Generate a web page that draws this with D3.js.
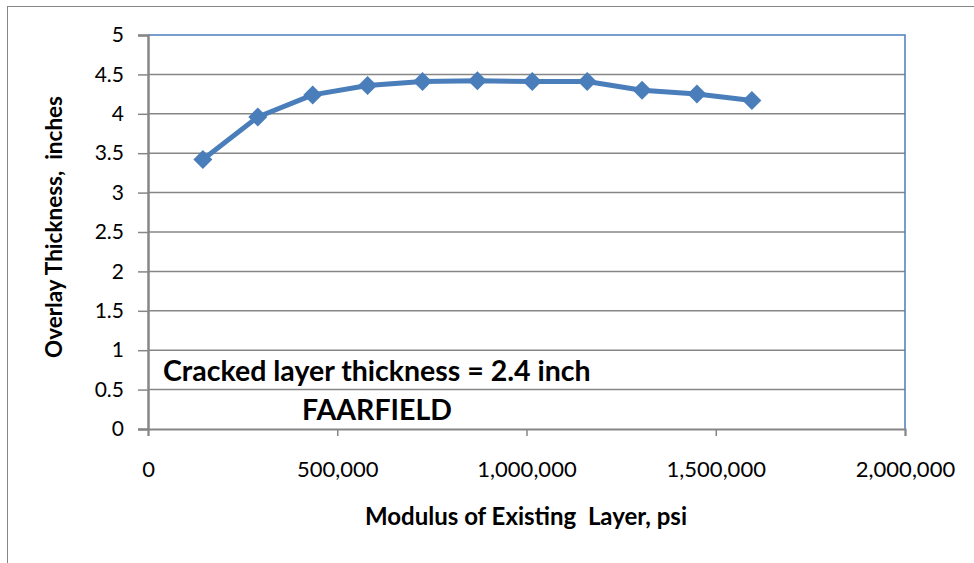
<!DOCTYPE html>
<html>
<head>
<meta charset="utf-8">
<script src="https://cdn.jsdelivr.net/npm/d3@7"></script>
<style>
  html, body { margin: 0; padding: 0; background: #fff; }
  svg { display: block; }
  text { font-family: Lato, "Open Sans", sans-serif; fill: #000; }
</style>
</head>
<body>
<svg id="chart" width="974" height="563"></svg>
<script>
// Modulus of the existing layer (psi) and the required overlay thickness (inches)
const modulus = [145038, 290075, 435113, 580151, 725189, 870226, 1015264, 1160302, 1305340, 1450377, 1595415];
const thickness = [3.42, 3.96, 4.24, 4.36, 4.41, 4.42, 4.41, 4.41, 4.30, 4.25, 4.17];
const xTicks = [0, 500000, 1000000, 1500000, 2000000];
const yTicks = [0, 0.5, 1, 1.5, 2, 2.5, 3, 3.5, 4, 4.5, 5];
const xTitle = "Modulus of Existing  Layer, psi";
const yTitle = "Overlay Thickness,  inches";
const notes = ["Cracked layer thickness = 2.4 inch", "FAARFIELD"];

const svg = d3.select("#chart");
const plot = { left: 148, right: 905, top: 35, bottom: 429 };
const blue = "#4a7ebb";
const gray = "#868686";

// chart frame
svg.append("rect")
  .attr("x", 7.5).attr("y", 6.5)
  .attr("width", 1000).attr("height", 600)
  .attr("fill", "none").attr("stroke", gray).attr("stroke-width", 1);

const x = d3.scaleLinear().domain([0, 2000000]).range([plot.left, plot.right]);
const y = d3.scaleLinear().domain([0, 5]).range([plot.bottom, plot.top]);

// horizontal gridlines
svg.append("g")
  .selectAll("line")
  .data(yTicks.filter(d => d > 0 && d < 5))
  .join("line")
  .attr("x1", plot.left).attr("x2", plot.right)
  .attr("y1", d => y(d)).attr("y2", d => y(d))
  .attr("stroke", gray).attr("stroke-width", 1.5);

// plot area border (top and right)
svg.append("path")
  .attr("d", `M${plot.left},${y(5)}H${plot.right}V${plot.bottom}`)
  .attr("fill", "none").attr("stroke", blue).attr("stroke-width", 1.5);

// y axis
const yAxis = d3.axisLeft(y).tickValues(yTicks).tickSize(10).tickPadding(14)
  .tickFormat(d => String(d));
const gy = svg.append("g").attr("transform", `translate(${plot.left},0)`).call(yAxis);
gy.select(".domain").attr("stroke", gray).attr("stroke-width", 2.5);
gy.selectAll(".tick line").attr("stroke", gray).attr("stroke-width", 1.5);
gy.selectAll(".tick text").attr("font-size", 21).attr("font-family", "Lato, sans-serif").attr("fill", "#000");

// x axis
const xAxis = d3.axisBottom(x).tickValues(xTicks).tickSize(7).tickPadding(25)
  .tickFormat(d3.format(","));
const gx = svg.append("g").attr("transform", `translate(0,${plot.bottom})`).call(xAxis);
gx.select(".domain").attr("stroke", gray).attr("stroke-width", 2);
gx.selectAll(".tick line").attr("stroke", gray).attr("stroke-width", 1.5);
gx.selectAll(".tick text").attr("font-size", 22).attr("font-family", "Lato, sans-serif").attr("fill", "#000");

// series line
const pts = modulus.map((m, i) => [m, thickness[i]]);
svg.append("path")
  .datum(pts)
  .attr("d", d3.line().x(d => x(d[0])).y(d => y(d[1])))
  .attr("fill", "none").attr("stroke", blue).attr("stroke-width", 5)
  .attr("stroke-linejoin", "round");

// diamond markers
svg.append("g")
  .selectAll("path")
  .data(pts)
  .join("path")
  .attr("transform", d => `translate(${x(d[0])},${y(d[1])})`)
  .attr("d", "M0,-9.5L9.5,0L0,9.5L-9.5,0Z")
  .attr("fill", blue);

// annotations
svg.append("text")
  .attr("x", 163).attr("y", 381)
  .attr("font-size", 28.5).attr("font-weight", "bold")
  .text(notes[0]);
svg.append("text")
  .attr("x", 377).attr("y", 420).attr("text-anchor", "middle")
  .attr("font-size", 28.5).attr("font-weight", "bold")
  .text(notes[1]);

// axis titles
svg.append("text")
  .attr("x", 526).attr("y", 525).attr("text-anchor", "middle")
  .attr("font-size", 24).attr("font-weight", "bold")
  .attr("xml:space", "preserve")
  .text(xTitle);
svg.append("text")
  .attr("transform", "translate(62,227) rotate(-90)")
  .attr("text-anchor", "middle")
  .attr("font-size", 22.5).attr("font-weight", "bold")
  .attr("xml:space", "preserve")
  .text(yTitle);
</script>
</body>
</html>
